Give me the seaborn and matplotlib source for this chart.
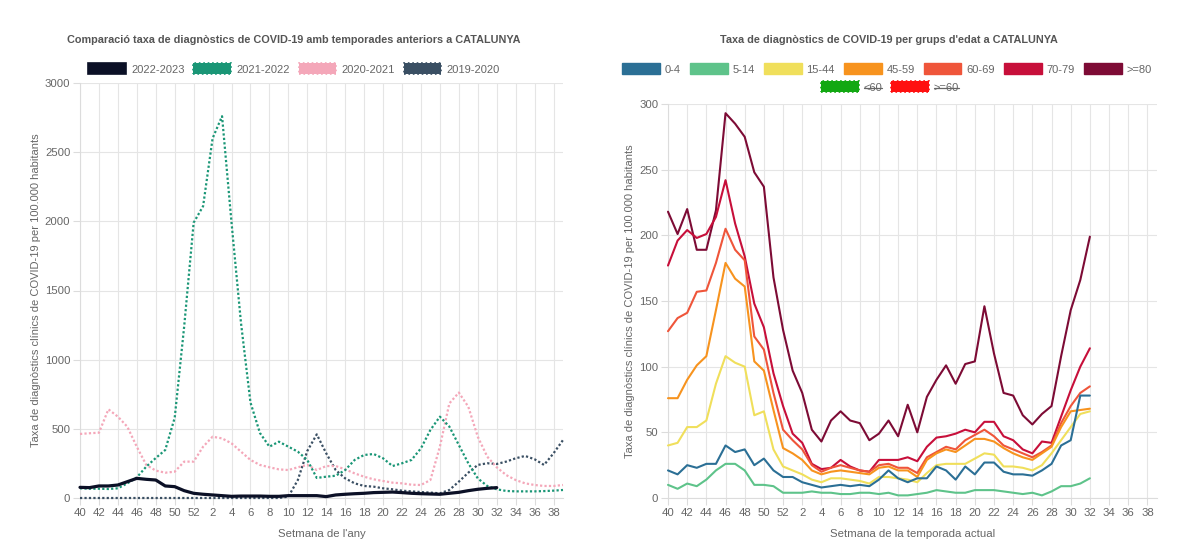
import numpy as np
import pandas as pd
import matplotlib
matplotlib.use("Agg")
import matplotlib.pyplot as plt
import seaborn as sns
from matplotlib.patches import Patch
from matplotlib.lines import Line2D

# --- dades: setmanes epidemiologiques (40..52, 1..39) ---
setmanes = list(range(40, 53)) + list(range(1, 40))
etiquetes = [str(s) for s in setmanes]

# taxa per temporada (per 100.000 hab.)
t2223 = [77, 75, 87, 87, 94, 118, 142, 135, 130, 87,
         82, 53, 34, 27, 22, 17, 12, 14, 14, 14,
         12, 12, 17, 17, 17, 17, 10, 22, 27, 31,
         34, 39, 41, 43, 39, 34, 31, 29, 27, 34,
         41, 53, 63, 70, 75]
t2122 = [70, 67, 67, 65, 70, 106, 149, 227, 289, 347,
         580, 1240, 1990, 2110, 2600, 2760, 1990, 1265, 690, 470,
         371, 407, 371, 335, 275, 145,
         154, 161, 202, 275, 311, 318, 287, 231, 251, 275,
         359, 492, 588, 516, 383, 251, 142, 87, 63, 51,
         48, 48, 48, 50, 53, 58]
t2021 = [463, 468, 472, 641, 588, 515, 370, 239, 198, 183,
         190, 263, 263, 371, 443, 431, 395, 335, 275, 239,
         222, 207, 202, 222, 239, 202,
         231, 231, 207, 178, 154, 135, 123, 111, 106, 96,
         94, 130, 371, 684, 762, 660, 443, 299, 222, 166,
         130, 106, 94, 87, 87, 94]
t1920 = [0] * 22 + [10, 130, 340, 460,
         323, 202, 142, 106, 87, 82, 70, 63, 53, 48,
         43, 39, 34, 58, 118, 183, 239, 251, 246, 263,
         287, 304, 280, 239, 323, 419]

temporades = ['2022-2023', '2021-2022', '2020-2021', '2019-2020']
series_t = [t2223, t2122, t2021, t1920]

# taxa per grups d'edat (temporada actual)
g0_4 = [21, 18, 25, 23, 26, 26, 40, 35, 37, 25,
        30, 21, 16, 16, 12, 10, 8, 9, 10, 9,
        10, 9, 14, 21, 15, 12, 15, 15, 24, 21,
        14, 24, 18, 27, 27, 20, 18, 18, 17, 21,
        26, 40, 44, 78, 78]
g5_14 = [10, 7, 11, 9, 14, 21, 26, 26, 21, 10,
         10, 9, 4, 4, 4, 5, 4, 4, 3, 3,
         4, 4, 3, 4, 2, 2, 3, 4, 6, 5,
         4, 4, 6, 6, 6, 5, 4, 3, 4, 2,
         5, 9, 9, 11, 15]
g15_44 = [40, 42, 54, 54, 59, 87, 108, 103, 100, 63,
          66, 37, 24, 21, 18, 14, 12, 15, 15, 14,
          13, 11, 16, 16, 15, 14, 12, 19, 25, 26,
          26, 26, 30, 34, 33, 24, 24, 23, 21, 25,
          34, 44, 54, 64, 66]
g45_59 = [76, 76, 90, 101, 108, 143, 179, 167, 161, 104,
          97, 67, 38, 34, 29, 21, 18, 20, 21, 20,
          19, 18, 23, 24, 21, 21, 16, 29, 34, 37,
          35, 40, 45, 45, 43, 38, 34, 31, 29, 34,
          39, 54, 66, 67, 68]
g60_69 = [127, 137, 141, 157, 158, 179, 205, 189, 181, 123,
          113, 80, 52, 44, 37, 25, 20, 23, 25, 23,
          21, 20, 25, 26, 23, 23, 19, 31, 35, 39,
          37, 44, 48, 52, 47, 40, 37, 34, 31, 35,
          40, 57, 70, 80, 85]
g70_79 = [177, 196, 204, 198, 201, 214, 242, 209, 184, 148,
          130, 95, 70, 49, 42, 26, 22, 23, 29, 24,
          21, 20, 29, 29, 29, 31, 28, 39, 46, 47,
          49, 52, 50, 58, 58, 47, 44, 37, 34, 43,
          42, 62, 82, 100, 114]
g80 = [218, 201, 220, 189, 189, 219, 293, 285, 275, 248,
       237, 168, 128, 97, 80, 52, 43, 59, 66, 59,
       57, 44, 49, 59, 47, 71, 50, 77, 90, 101,
       87, 102, 104, 146, 110, 80, 78, 63, 56, 64,
       70, 108, 143, 166, 199]

grups = ['0-4', '5-14', '15-44', '45-59', '60-69', '70-79', '>=80']
series_g = [g0_4, g5_14, g15_44, g45_59, g60_69, g70_79, g80]
grups_ocults = ['<60', '>=60']

# --- taules llargues per a seaborn ---
def llarga(noms, series, col):
    files = []
    for nom, vals in zip(noms, series):
        for i, v in enumerate(vals):
            files.append({col: nom, 'idx': i, 'taxa': v})
    return pd.DataFrame(files)

df_t = llarga(temporades, series_t, 'temporada')
df_g = llarga(grups, series_g, 'grup')

# --- estil ---
sns.set_theme(style="whitegrid")
plt.rcParams['font.family'] = ['Liberation Sans', 'DejaVu Sans']
GRIS = '#666666'
GRID = '#e5e5e5'

colors_t = {'2022-2023': '#0b1026', '2021-2022': '#1a9676',
            '2020-2021': '#f4a7b9', '2019-2020': '#3a4f63'}
dashes_t = {'2022-2023': '', '2021-2022': (1, 1),
            '2020-2021': (1, 1), '2019-2020': (1, 1)}
colors_g = {'0-4': '#2b6f95', '5-14': '#5ec38a', '15-44': '#f0df5b',
            '45-59': '#f7931e', '60-69': '#ef553a', '70-79': '#c70f3a',
            '>=80': '#7d0b35'}
colors_ocults = {'<60': '#12a812', '>=60': '#ff1010'}

fig = plt.figure(figsize=(12, 5.47), dpi=100)
ax1 = fig.add_axes([80 / 1200, 49 / 547, 483 / 1200, 415 / 547])
ax2 = fig.add_axes([668 / 1200, 49 / 547, 489 / 1200, 394 / 547])

# primer dataset a sobre (com Chart.js)
sns.lineplot(data=df_t, x='idx', y='taxa', hue='temporada', style='temporada',
             hue_order=temporades[::-1], style_order=temporades[::-1],
             palette=colors_t, dashes=dashes_t, linewidth=1.6,
             estimator=None, legend=False, ax=ax1)
ax1.lines[-1].set_linewidth(2.3)

sns.lineplot(data=df_g, x='idx', y='taxa', hue='grup', hue_order=grups[::-1],
             palette=colors_g, linewidth=1.5, estimator=None, legend=False, ax=ax2)

for ax, ymax, pas, xlab in [(ax1, 3000, 500, "Setmana de l'any"),
                            (ax2, 300, 50, "Setmana de la temporada actual")]:
    for ln in ax.lines:
        ln.set_zorder(3)
        ln.set_clip_on(False)
    ax.set_xlim(0, len(setmanes) - 1)
    ax.set_ylim(0, ymax)
    ax.set_xticks(range(0, len(setmanes), 2))
    ax.set_xticklabels(etiquetes[::2])
    ax.set_yticks(range(0, ymax + 1, pas))
    ax.grid(True, color=GRID, linewidth=0.8)
    ax.set_axisbelow(True)
    ax.set_facecolor('white')
    for s in ['top', 'right']:
        ax.spines[s].set_visible(False)
    for s in ['left', 'bottom']:
        ax.spines[s].set_color('#dcdcdc')
        ax.spines[s].set_linewidth(0.8)
        ax.spines[s].set_zorder(1)
    ax.tick_params(axis='both', length=5, width=0.8, color='#dcdcdc',
                   labelsize=8.2, labelcolor=GRIS, pad=2, left=True, bottom=True)
    ax.set_xlabel(xlab, fontsize=8.2, color=GRIS, labelpad=8)
    ax.set_ylabel('Taxa de diagnòstics clínics de COVID-19 per 100.000 habitants',
                  fontsize=8, color=GRIS, labelpad=3)

# --- títols ---
fig.text(294 / 1200, 1 - 40 / 547,
         'Comparació taxa de diagnòstics de COVID-19 amb temporades anteriors a CATALUNYA',
         ha='center', va='center', fontsize=7.8, fontweight='bold', color='#555555')
fig.text(889 / 1200, 1 - 40 / 547,
         "Taxa de diagnòstics de COVID-19 per grups d'edat a CATALUNYA",
         ha='center', va='center', fontsize=7.8, fontweight='bold', color='#555555')

# --- llegendes ---
opts = dict(loc='center', frameon=False, fontsize=8, handlelength=3.4,
            handleheight=1.1, handletextpad=0.45, columnspacing=0.8,
            labelcolor=GRIS, borderpad=0, borderaxespad=0)

h1 = [Patch(facecolor=colors_t[t], edgecolor=colors_t[t], linewidth=1.2,
            linestyle='-' if dashes_t[t] == '' else ':', label=t) for t in temporades]
fig.legend(handles=h1, bbox_to_anchor=(294 / 1200, 1 - 69 / 547), ncol=4, **opts)

h2 = [Patch(facecolor=colors_g[g], edgecolor=colors_g[g], linewidth=1.0, label=g)
      for g in grups]
fig.legend(handles=h2, bbox_to_anchor=(887 / 1200, 1 - 69 / 547), ncol=7, **opts)

h3 = [Patch(facecolor=colors_ocults[g], edgecolor=colors_ocults[g], linewidth=1.2,
            linestyle=':', label=g) for g in grups_ocults]
leg3 = fig.legend(handles=h3, bbox_to_anchor=(890 / 1200, 1 - 87 / 547), ncol=2, **opts)

# datasets ocults: text ratllat
fig.canvas.draw()
inv = fig.transFigure.inverted()
for t in leg3.get_texts():
    bb = t.get_window_extent()
    (x0, y0), (x1, y1) = inv.transform([[bb.x0, bb.y0], [bb.x1, bb.y1]])
    ym = (y0 + y1) / 2
    fig.add_artist(Line2D([x0, x1], [ym, ym], transform=fig.transFigure,
                          color=GRIS, linewidth=0.9))

fig.savefig('out.png', dpi=100, facecolor='white')
